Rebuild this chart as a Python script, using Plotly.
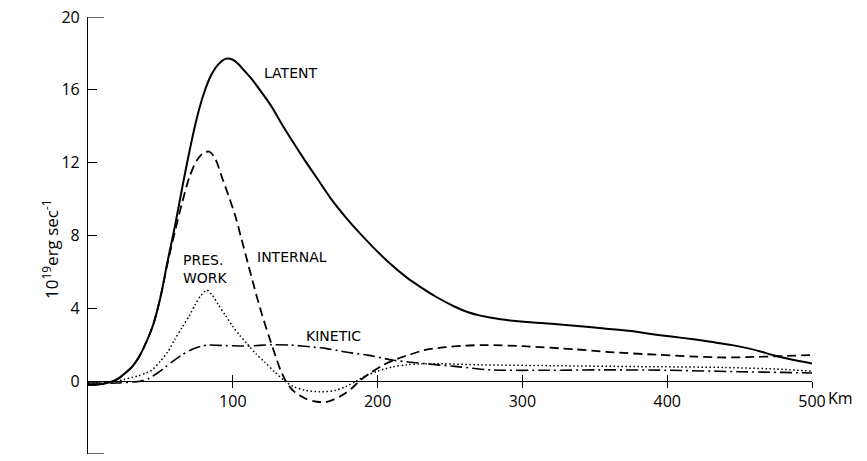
import plotly.graph_objects as go

# ---- data (km, 10^19 erg/s) ----
latent_km = [0, 10, 20, 25, 30, 35, 40, 45, 50, 55, 60, 65, 70, 75, 80, 85, 90, 95, 100, 104,
             108, 113, 120, 127, 134, 141, 150, 159, 168, 178, 188, 197, 208, 220, 230, 240,
             253, 262, 271, 285, 301, 320, 336, 355, 375, 390, 403, 418, 430, 445, 456, 465,
             472, 485, 500]
latent_v = [-0.2, -0.15, 0.1, 0.4, 0.75, 1.3, 2.1, 3.1, 4.6, 6.6, 8.5, 10.6, 12.6, 14.4, 15.8,
            16.8, 17.4, 17.7, 17.65, 17.4, 17.05, 16.6, 15.85, 15.05, 14.1, 13.2, 12.1, 11.05,
            10.0, 9.0, 8.1, 7.35, 6.5, 5.7, 5.15, 4.65, 4.1, 3.8, 3.6, 3.4, 3.26, 3.15, 3.05,
            2.9, 2.75, 2.58, 2.45, 2.3, 2.16, 1.98, 1.8, 1.62, 1.45, 1.2, 0.97]

internal_km = [0, 10, 20, 25, 30, 35, 40, 45, 50, 55, 60, 65, 70, 75, 80, 84, 88, 92.5, 97, 102,
               106, 111, 115, 120, 125, 129, 133, 137, 142, 150, 158, 164, 170, 176, 182, 188,
               195, 203, 211, 222, 232, 245, 260, 275, 301, 336, 360, 393, 420, 440, 460, 480, 500]
internal_v = [-0.2, -0.15, 0.1, 0.4, 0.75, 1.3, 2.1, 3.1, 4.6, 6.5, 8.2, 9.8, 11.2, 12.1, 12.55,
              12.6, 12.2, 11.2, 10.2, 9.0, 7.8, 6.3, 5.1, 3.7, 2.45, 1.5, 0.6, -0.05, -0.55,
              -0.95, -1.13, -1.15, -1.0, -0.75, -0.4, 0.05, 0.45, 0.85, 1.15, 1.45, 1.7, 1.85,
              1.95, 1.98, 1.92, 1.75, 1.6, 1.45, 1.35, 1.3, 1.33, 1.38, 1.43]

pres_km = [0, 10, 20, 25, 30, 35, 40, 44, 50, 55, 60, 65, 70, 74, 78, 82, 86, 90, 95, 100, 105,
           110, 116, 122, 129, 136, 142, 150, 160, 170, 178, 185, 192, 200, 210, 220, 230, 245,
           270, 320, 380, 440, 480, 500]
pres_v = [-0.1, -0.08, 0.0, 0.1, 0.2, 0.3, 0.45, 0.6, 1.1, 1.6, 2.3, 2.95, 3.6, 4.2, 4.7, 5.0,
          4.7, 4.2, 3.6, 3.0, 2.5, 2.05, 1.5, 1.05, 0.5, 0.0, -0.3, -0.5, -0.58, -0.52, -0.3,
          0.0, 0.3, 0.55, 0.78, 0.9, 0.95, 0.95, 0.9, 0.85, 0.8, 0.75, 0.65, 0.55]

kinetic_km = [0, 20, 30, 36, 42, 48, 53, 58, 65, 72, 78, 83, 95, 110, 127, 140, 156, 164, 178,
              193, 211, 234, 255, 278, 318, 354, 400, 450, 500]
kinetic_v = [-0.1, -0.1, -0.05, 0.0, 0.15, 0.45, 0.75, 1.06, 1.45, 1.75, 1.92, 1.98, 1.95, 1.93,
             2.0, 1.98, 1.87, 1.8, 1.6, 1.43, 1.15, 0.95, 0.8, 0.62, 0.6, 0.62, 0.6, 0.52, 0.45]

x_ticks = [100, 200, 300, 400, 500]
x_ticktext = ["100", "200", "300", "400", "500"]
y_ticks = [-4, 0, 4, 8, 12, 16, 20]
y_range = [-4, 20]
x_range = [0, 500]

FONT = "Open Sans"
LFONT = "DejaVu Sans"
zero_pos = (0 - y_range[0]) / (y_range[1] - y_range[0])

fig = go.Figure()
fig.add_trace(go.Scatter(x=latent_km, y=latent_v, mode="lines", line_shape="spline",
                         line=dict(color="black", width=2, smoothing=0.9)))
fig.add_trace(go.Scatter(x=internal_km, y=internal_v, mode="lines", line_shape="spline",
                         line=dict(color="black", width=1.8, dash="9px,5px", smoothing=0.8)))
fig.add_trace(go.Scatter(x=pres_km, y=pres_v, mode="lines", line_shape="spline",
                         line=dict(color="black", width=1.5, dash="1.5px,2.5px", smoothing=0.8)))
fig.add_trace(go.Scatter(x=kinetic_km, y=kinetic_v, mode="lines", line_shape="spline",
                         line=dict(color="black", width=1.6, dash="12px,4px,2px,4px",
                                   smoothing=0.8)))
fig.add_trace(go.Scatter(x=[None], y=[None], xaxis="x2", showlegend=False))

fig.update_layout(
    width=867, height=461,
    margin=dict(l=88, r=55, t=17, b=7),
    plot_bgcolor="white", paper_bgcolor="white",
    showlegend=False,
    font=dict(family=FONT, color="black"),
    xaxis=dict(range=x_range, anchor="free", position=zero_pos, showline=True,
               linecolor="black", linewidth=1.2, ticks="outside", ticklen=6, tickwidth=1.2,
               tickcolor="black", tickvals=x_ticks, ticktext=x_ticktext,
               tickfont=dict(size=16, family=FONT), showgrid=False, zeroline=False),
    xaxis2=dict(range=x_range, overlaying="x", anchor="free", position=zero_pos,
                showline=False, ticks="inside", ticklen=6, tickwidth=1.2, tickcolor="black",
                tickvals=x_ticks, showticklabels=False, showgrid=False, zeroline=False),
    yaxis=dict(range=y_range, tickvals=y_ticks, ticks="inside", ticklen=9, tickwidth=1.2,
               tickcolor="black", showline=True, linecolor="black", linewidth=1.2,
               tickfont=dict(size=16, family=FONT), showgrid=False, zeroline=False,
               ticklabelstandoff=4),
)

# longer end ticks on the y axis
for yv in (y_range[0], y_range[1]):
    fig.add_shape(type="line", xref="paper", yref="y", x0=0, x1=16 / 724, y0=yv, y1=yv,
                  line=dict(color="black", width=1.2))

lab = dict(size=14, family=LFONT, color="black")
fig.add_annotation(x=140, y=16.9, text="LATENT", showarrow=False, font=lab)
fig.add_annotation(x=115, y=6.8, text="INTERNAL", showarrow=False, font=lab, xanchor="left")
fig.add_annotation(x=64, y=6.15, text="PRES.<br>WORK", showarrow=False, font=lab,
                   xanchor="left", align="left")
fig.add_annotation(x=149, y=2.5, text="KINETIC", showarrow=False, font=lab, xanchor="left")
fig.add_annotation(x=500, y=0, text="Km", showarrow=False, font=dict(size=16, family=FONT),
                   xanchor="left", xshift=14, yshift=-17)
fig.add_annotation(xref="paper", yref="paper", x=-0.072, y=0.47, textangle=-90,
                   text="10<sup>19</sup>erg sec<sup>-1</sup>", showarrow=False,
                   font=dict(size=17, family=FONT))

fig.write_html("out.html")
